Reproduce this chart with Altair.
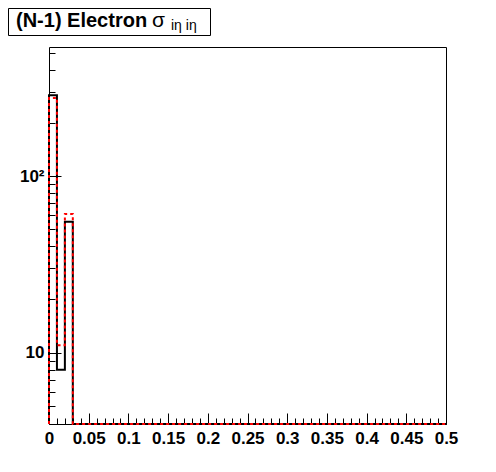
import altair as alt
import pandas as pd

# Histogram bin edges (50 bins of width 0.01 from 0 to 0.5)
bin_edges = [round(i * 0.01, 2) for i in range(51)]

black_counts = [287, 8, 55, 0, 0, 0, 0, 0, 0, 0,
                0, 0, 0, 0, 0, 0, 0, 0, 0, 0,
                0, 0, 0, 0, 0, 0, 0, 0, 0, 0,
                0, 0, 0, 0, 0, 0, 0, 0, 0, 0,
                0, 0, 0, 0, 0, 0, 0, 0, 0, 0]
red_counts = [277, 11, 61, 0, 0, 0, 0, 0, 0, 0,
              0, 0, 0, 0, 0, 0, 0, 0, 0, 0,
              0, 0, 0, 0, 0, 0, 0, 0, 0, 0,
              0, 0, 0, 0, 0, 0, 0, 0, 0, 0,
              0, 0, 0, 0, 0, 0, 0, 0, 0, 0]

x_major = [0, 0.05, 0.1, 0.15, 0.2, 0.25, 0.3, 0.35, 0.4, 0.45, 0.5]
x_minor = bin_edges
y_major = [10, 100]
y_minor = [5, 6, 7, 8, 9, 20, 30, 40, 50, 60, 70, 80, 90, 200, 300, 400, 500]

Y_MIN, Y_MAX = 3.94, 538
W, H = 397, 377
FONT = "Liberation Sans"


def series(counts, name):
    xs = [0.0] + bin_edges
    ys = [0] + counts + [counts[-1]]
    return pd.DataFrame({"x": xs, "n": ys, "s": name, "o": list(range(len(xs)))})


df_black = series(black_counts, "black")
df_red = series(red_counts, "red")

xscale = alt.Scale(domain=[0, 0.5], nice=False, zero=False)
yscale = alt.Scale(type="log", domain=[Y_MIN, Y_MAX], nice=False)

ax_x_labels = alt.Axis(orient="bottom", values=x_major, format="~g", ticks=False, tickSize=0,
                       domain=False, grid=False, labelFont=FONT, labelFontWeight="bold",
                       labelFontSize=17, labelColor="black", labelPadding=6,
                       labelFlush=False, labelOverlap=False, title=None)
ax_x_major = alt.Axis(orient="top", offset=-H, values=x_major, labels=False, ticks=True,
                      tickSize=11, tickColor="black", tickWidth=1, domain=False, grid=False, title=None)
ax_x_minor = alt.Axis(orient="top", offset=-H, values=x_minor, labels=False, ticks=True,
                      tickSize=6, tickColor="black", tickWidth=1, domain=False, grid=False, title=None)

ax_y_labels = alt.Axis(orient="left", values=y_major, ticks=False, tickSize=0, domain=False,
                       grid=False, labelFont=FONT, labelFontWeight="bold", labelFontSize=17,
                       labelColor="black", labelPadding=5, labelFlush=False, labelOverlap=False,
                       labelExpr="datum.value >= 100 ? '10²' : '10'", title=None)
ax_y_major = alt.Axis(orient="right", offset=-W, values=y_major, labels=False, ticks=True,
                      tickSize=12, tickColor="black", tickWidth=1, domain=False, grid=False, title=None)
ax_y_minor = alt.Axis(orient="right", offset=-W, values=y_minor, labels=False, ticks=True,
                      tickSize=6, tickColor="black", tickWidth=1, domain=False, grid=False, title=None)


def hist_layer(df, x_axis, y_axis, **mark_kw):
    return alt.Chart(df).transform_calculate(
        yv=f"max(datum.n, {Y_MIN})"
    ).mark_line(interpolate="step-after", **mark_kw).encode(
        x=alt.X("x:Q", scale=xscale, axis=x_axis),
        y=alt.Y("yv:Q", scale=yscale, axis=y_axis),
        order="o:Q",
    )


black = hist_layer(df_black, ax_x_labels, ax_y_labels, color="black", strokeWidth=2)
red = hist_layer(df_red, ax_x_major, ax_y_major, color="#ff0000", strokeWidth=2, strokeDash=[3, 3])
minor = hist_layer(df_black, ax_x_minor, ax_y_minor, color="black", strokeWidth=1, opacity=0)

title_df = pd.DataFrame({"t": ["(N-1) Electron"]})
box = alt.Chart(title_df).mark_rect(fill="white", stroke="black", strokeWidth=1).encode(
    x=alt.value(-40.5), x2=alt.value(161.5), y=alt.value(-38.5), y2=alt.value(-11.5)
)
t_main = alt.Chart(title_df).mark_text(font=FONT, fontWeight="bold", fontSize=20, align="left",
                                       baseline="alphabetic", color="black").encode(
    x=alt.value(-33), y=alt.value(-20), text="t:N"
)
t_sigma = alt.Chart(pd.DataFrame({"t": ["σ"]})).mark_text(font=FONT, fontSize=21, align="left",
                                                          baseline="alphabetic", color="black").encode(
    x=alt.value(103), y=alt.value(-20), text="t:N"
)
t_sub = alt.Chart(pd.DataFrame({"t": ["iη iη"]})).mark_text(font=FONT, fontSize=14, align="left",
                                                            baseline="alphabetic", color="black").encode(
    x=alt.value(122), y=alt.value(-17), text="t:N"
)

chart = alt.layer(black, red, minor, box, t_main, t_sigma, t_sub).resolve_axis(
    x="independent", y="independent"
).properties(
    width=W, height=H,
    autosize=alt.AutoSizeParams(type="none"),
    padding={"left": 41, "top": 39, "right": 20, "bottom": 36},
    background="white",
).configure_view(stroke="black", strokeWidth=1)

chart.save("out.html", embed_options={"renderer": "svg", "actions": False})
